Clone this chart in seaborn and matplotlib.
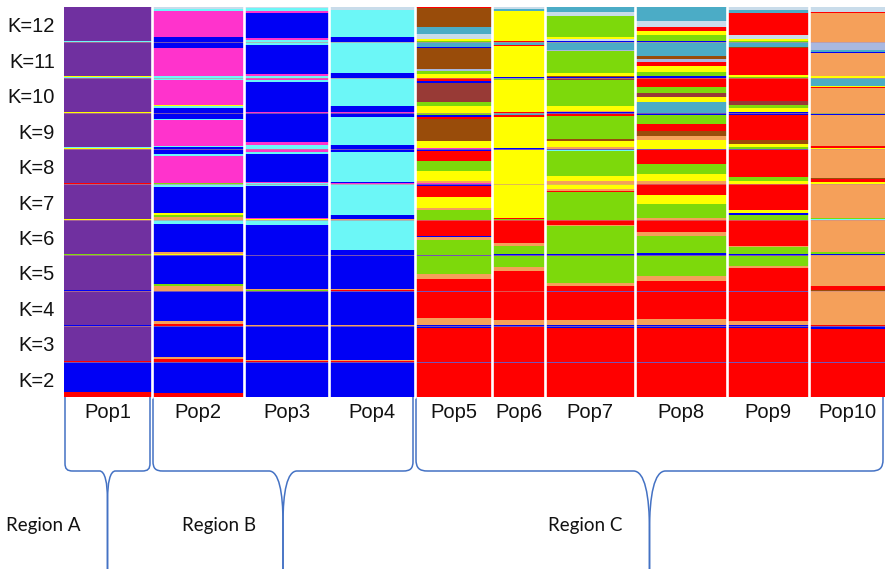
import matplotlib
matplotlib.use("Agg")
import matplotlib.pyplot as plt
from matplotlib.path import Path
from matplotlib.patches import PathPatch
import numpy as np
import pandas as pd
import seaborn as sns

k_labels = ["K=12", "K=11", "K=10", "K=9", "K=8", "K=7", "K=6", "K=5", "K=4", "K=3", "K=2"]
pop_names = ["Pop1", "Pop2", "Pop3", "Pop4", "Pop5", "Pop6", "Pop7", "Pop8", "Pop9", "Pop10"]
pop_sizes = [88, 92, 85, 86, 77, 53, 90, 92, 82, 76]
region_names = ["Region A", "Region B", "Region C"]
region_pops = [(0, 0), (1, 3), (4, 9)]

cluster_colors = {
    "purple": "#7030A0", "blue": "#0000F5", "red": "#FF0000", "pink": "#FF33CC",
    "cyan": "#6CF7F7", "yellow": "#FFFF00", "green": "#7DD90B", "orange": "#F5A05A",
    "brown": "#994C0A", "maroon": "#983A36", "steel": "#4BACC6", "pale": "#C9DCEA",
    "lav": "#A9B8E0",
}

# ancestry proportions per population, top of bar to bottom
q12 = [
    [("purple", .96), ("cyan", .02), ("yellow", .01), ("green", .01)],
    [("pale", .05), ("cyan", .05), ("pink", .75), ("blue", .15)],
    [("pale", .04), ("cyan", .08), ("pink", .05), ("blue", .70), ("pink", .07), ("cyan", .06)],
    [("pale", .08), ("cyan", .78), ("blue", .14)],
    [("red", .03), ("brown", .52), ("steel", .20), ("pale", .15), ("yellow", .05), ("green", .05)],
    [("pale", .05), ("steel", .05), ("yellow", .86), ("red", .02), ("blue", .02)],
    [("steel", .14), ("pale", .10), ("green", .60), ("yellow", .06), ("pale", .06), ("blue", .02), ("red", .02)],
    [("steel", .40), ("pale", .15), ("red", .12), ("yellow", .13), ("green", .15), ("blue", .05)],
    [("pale", .08), ("steel", .10), ("red", .62), ("pale", .10), ("yellow", .05), ("green", .05)],
    [("pale", .15), ("red", .03), ("orange", .80), ("blue", .02)],
]
q11 = [
    [("purple", .96), ("yellow", .015), ("cyan", .015), ("red", .01)],
    [("blue", .15), ("yellow", .02), ("pink", .77), ("cyan", .06)],
    [("cyan", .08), ("blue", .80), ("pink", .07), ("cyan", .05)],
    [("cyan", .85), ("blue", .15)],
    [("steel", .12), ("blue", .03), ("brown", .60), ("lav", .05), ("green", .08), ("yellow", .12)],
    [("steel", .06), ("red", .03), ("yellow", .88), ("blue", .03)],
    [("steel", .20), ("lav", .05), ("green", .62), ("yellow", .08), ("brown", .02), ("blue", .03)],
    [("steel", .38), ("brown", .08), ("lav", .10), ("red", .10), ("yellow", .17), ("green", .12), ("blue", .05)],
    [("steel", .12), ("brown", .05), ("red", .75), ("yellow", .05), ("green", .03)],
    [("lav", .22), ("steel", .05), ("blue", .03), ("orange", .66), ("yellow", .03), ("red", .01)],
]
q10 = [
    [("purple", .96), ("red", .01), ("yellow", .02), ("green", .01)],
    [("cyan", .05), ("pink", .72), ("yellow", .03), ("cyan", .05), ("blue", .15)],
    [("pink", .06), ("cyan", .06), ("blue", .84), ("pink", .02), ("green", .02)],
    [("cyan", .80), ("blue", .17), ("pink", .03)],
    [("red", .08), ("blue", .05), ("maroon", .55), ("green", .10), ("yellow", .22)],
    [("steel", .03), ("green", .03), ("yellow", .90), ("red", .04)],
    [("maroon", .05), ("green", .73), ("yellow", .14), ("orange", .05), ("blue", .03)],
    [("red", .25), ("green", .18), ("maroon", .12), ("yellow", .12), ("steel", .33)],
    [("red", .65), ("maroon", .10), ("green", .10), ("yellow", .10), ("blue", .05)],
    [("steel", .22), ("yellow", .03), ("red", .03), ("orange", .72)],
]
q9 = [
    [("purple", .96), ("cyan", .02), ("yellow", .02)],
    [("blue", .15), ("cyan", .05), ("pink", .72), ("cyan", .03), ("blue", .05)],
    [("blue", .82), ("pink", .08), ("cyan", .10)],
    [("blue", .10), ("cyan", .78), ("blue", .12)],
    [("green", .06), ("blue", .05), ("red", .04), ("brown", .62), ("yellow", .20), ("pink", .03)],
    [("steel", .06), ("red", .04), ("yellow", .88), ("blue", .02)],
    [("blue", .03), ("red", .04), ("green", .66), ("brown", .05), ("yellow", .18), ("orange", .04)],
    [("blue", .05), ("green", .25), ("red", .20), ("brown", .15), ("orange", .10), ("yellow", .25)],
    [("blue", .04), ("red", .72), ("brown", .10), ("yellow", .10), ("green", .04)],
    [("green", .03), ("blue", .02), ("orange", .88), ("red", .05), ("yellow", .02)],
]
q8 = [
    [("purple", .97), ("red", .01), ("yellow", .01), ("green", .01)],
    [("blue", .14), ("cyan", .05), ("red", .02), ("pink", .76), ("green", .03)],
    [("pink", .08), ("cyan", .07), ("blue", .78), ("pink", .04), ("cyan", .03)],
    [("blue", .08), ("cyan", .86), ("blue", .03), ("pink", .03)],
    [("blue", .05), ("red", .30), ("green", .27), ("yellow", .30), ("orange", .05), ("pink", .03)],
    [("blue", .04), ("yellow", .94), ("red", .02)],
    [("blue", .03), ("cyan", .02), ("green", .72), ("yellow", .15), ("orange", .08)],
    [("blue", .03), ("red", .40), ("green", .27), ("yellow", .22), ("orange", .08)],
    [("blue", .04), ("red", .76), ("green", .10), ("yellow", .10)],
    [("orange", .82), ("brown", .04), ("red", .08), ("yellow", .06)],
]
q7 = [
    [("purple", .97), ("cyan", .015), ("yellow", .015)],
    [("cyan", .08), ("blue", .72), ("yellow", .06), ("green", .06), ("orange", .08)],
    [("cyan", .04), ("blue", .90), ("pink", .03), ("yellow", .03)],
    [("cyan", .88), ("blue", .10), ("orange", .02)],
    [("blue", .04), ("red", .33), ("yellow", .30), ("orange", .05), ("green", .28)],
    [("yellow", .95), ("red", .03), ("green", .02)],
    [("yellow", .12), ("orange", .06), ("red", .05), ("green", .77)],
    [("red", .30), ("yellow", .25), ("green", .40), ("orange", .05)],
    [("red", .72), ("yellow", .10), ("blue", .04), ("green", .14)],
    [("orange", .95), ("green", .03), ("cyan", .02)],
]
q6 = [
    [("purple", .96), ("cyan", .01), ("blue", .01), ("green", .02)],
    [("cyan", .12), ("blue", .78), ("orange", .06), ("yellow", .04)],
    [("cyan", .14), ("blue", .86)],
    [("cyan", .85), ("blue", .15)],
    [("red", .45), ("blue", .05), ("orange", .06), ("green", .44)],
    [("red", .65), ("orange", .10), ("green", .22), ("blue", .03)],
    [("red", .14), ("orange", .05), ("green", .78), ("blue", .03)],
    [("red", .35), ("orange", .12), ("green", .48), ("blue", .05)],
    [("red", .75), ("orange", .03), ("green", .18), ("blue", .04)],
    [("orange", .92), ("green", .05), ("blue", .03)],
]
q5 = [
    [("purple", .97), ("orange", .02), ("blue", .01)],
    [("blue", .80), ("green", .07), ("orange", .13)],
    [("blue", .96), ("orange", .03), ("green", .01)],
    [("blue", .96), ("orange", .03), ("red", .01)],
    [("blue", .03), ("green", .50), ("orange", .15), ("red", .32)],
    [("blue", .02), ("green", .30), ("orange", .12), ("red", .56)],
    [("blue", .03), ("green", .75), ("orange", .08), ("red", .14)],
    [("blue", .03), ("green", .55), ("orange", .15), ("red", .27)],
    [("blue", .03), ("green", .28), ("orange", .06), ("red", .63)],
    [("orange", .88), ("red", .10), ("brown", .02)],
]
q4 = [
    [("purple", .97), ("blue", .015), ("orange", .015)],
    [("blue", .85), ("orange", .10), ("red", .05)],
    [("blue", .96), ("orange", .03), ("red", .01)],
    [("blue", .96), ("orange", .03), ("red", .01)],
    [("blue", .05), ("red", .72), ("orange", .20), ("blue", .03)],
    [("red", .84), ("orange", .14), ("blue", .02)],
    [("blue", .04), ("red", .78), ("orange", .15), ("blue", .03)],
    [("blue", .03), ("red", .77), ("orange", .17), ("blue", .03)],
    [("blue", .03), ("red", .82), ("orange", .12), ("blue", .03)],
    [("orange", .97), ("red", .03)],
]
q3 = [
    [("purple", .985), ("red", .015)],
    [("blue", .88), ("orange", .05), ("red", .07)],
    [("blue", .97), ("orange", .02), ("red", .01)],
    [("blue", .97), ("orange", .02), ("red", .01)],
    [("blue", .06), ("red", .94)],
    [("blue", .03), ("red", .97)],
    [("blue", .06), ("red", .94)],
    [("blue", .06), ("red", .94)],
    [("blue", .06), ("red", .94)],
    [("blue", .08), ("red", .92)],
]
q2 = [
    [("blue", .85), ("red", .15)],
    [("blue", .90), ("red", .10)],
    [("blue", .99), ("red", .01)],
    [("blue", .99), ("red", .01)],
    [("blue", .03), ("red", .97)],
    [("blue", .04), ("red", .96)],
    [("blue", .04), ("red", .96)],
    [("blue", .04), ("red", .96)],
    [("blue", .04), ("red", .96)],
    [("blue", .05), ("red", .95)],
]
q_rows = [q12, q11, q10, q9, q8, q7, q6, q5, q4, q3, q2]

edges = np.concatenate([[0], np.cumsum(pop_sizes)])
centers = (edges[:-1] + edges[1:]) / 2
total = edges[-1]
bin_edges = [float(e) for e in edges]


def row_frame(q):
    recs = []
    for p, comp in enumerate(q):
        for i, (cl, f) in enumerate(comp):
            # segment keys sort by position in the bar, so the first one ends up on top
            recs.append({"x": centers[p], "seg": f"{i:02d}_{p}", "q": f,
                         "color": cluster_colors[cl]})
    return pd.DataFrame(recs)


sns.set_theme(style="white")
plt.rcParams["font.family"] = ["Liberation Sans", "DejaVu Sans"]

W, H = 885, 569
left_px, top_px, bottom_px = 64, 7, 397
row_h = (bottom_px - top_px) / len(k_labels)

fig = plt.figure(figsize=(W / 100, H / 100), dpi=100)

for r, (label, q) in enumerate(zip(k_labels, q_rows)):
    y_top = top_px + r * row_h
    ax = fig.add_axes([left_px / W, 1 - (y_top + row_h) / H, total / W, row_h / H])
    df = row_frame(q)
    order = sorted(df["seg"].unique())
    pal = dict(zip(df["seg"], df["color"]))
    sns.histplot(data=df, x="x", weights="q", hue="seg", hue_order=order, palette=pal,
                 bins=bin_edges, multiple="fill", legend=False, alpha=1,
                 linewidth=0, edgecolor="none", ax=ax)
    ax.set_xlim(0, total)
    ax.set_ylim(0, 1)
    ax.set_xlabel("")
    ax.set_ylabel("")
    ax.set_yticks([0.5])
    ax.set_yticklabels([label], fontsize=14.5, color="#111111")
    ax.tick_params(axis="y", length=0, pad=6.5)
    if r == len(k_labels) - 1:
        ax.set_xticks(centers)
        ax.set_xticklabels(pop_names, fontsize=14.5, color="#111111")
        ax.tick_params(axis="x", length=0, pad=4)
    else:
        ax.set_xticks([])
    sns.despine(ax=ax, left=True, bottom=True)

# overlay in pixel units for separators and region braces
ov = fig.add_axes([0, 0, 1, 1])
ov.set_xlim(0, W)
ov.set_ylim(H, 0)
ov.axis("off")

for r in range(1, len(k_labels)):
    y = top_px + r * row_h
    ov.plot([left_px, left_px + total], [y, y], color="#c98c8c", lw=0.6, alpha=0.7)
for e in edges[1:-1]:
    ov.plot([left_px + e, left_px + e], [top_px, bottom_px], color="white", lw=1.9)


def brace_half(xe, xm, s, r, w, d, y_bar=471):
    verts = [(xe, bottom_px), (xe, y_bar - 2 * r),
             (xe, y_bar - 0.5 * r), (xe + s * 0.5 * r, y_bar), (xe + s * 2 * r, y_bar),
             (xm - s * w, y_bar),
             (xm - s * 0.3 * w, y_bar), (xm, y_bar + 0.4 * d), (xm, y_bar + d),
             (xm, H)]
    codes = [Path.MOVETO, Path.LINETO, Path.CURVE4, Path.CURVE4, Path.CURVE4,
             Path.LINETO, Path.CURVE4, Path.CURVE4, Path.CURVE4, Path.LINETO]
    return PathPatch(Path(verts, codes), fill=False, edgecolor="#4472C4", lw=1.1)


brace_style = [(4, 8, 30), (5, 14, 52), (6, 16, 60)]
for name, (a, b), (rad, w, d) in zip(region_names, region_pops, brace_style):
    x0 = left_px + edges[a] + 1
    x1 = left_px + edges[b + 1] - 2
    xm = (x0 + x1) / 2
    ov.add_patch(brace_half(x0, xm, 1, rad, w, d))
    ov.add_patch(brace_half(x1, xm, -1, rad, w, d))
    ov.text(xm - 64, 525, name, ha="center", va="center", fontsize=13.5,
            family=["Lato", "DejaVu Sans"], color="#111111")

fig.savefig("out.png", dpi=100)
